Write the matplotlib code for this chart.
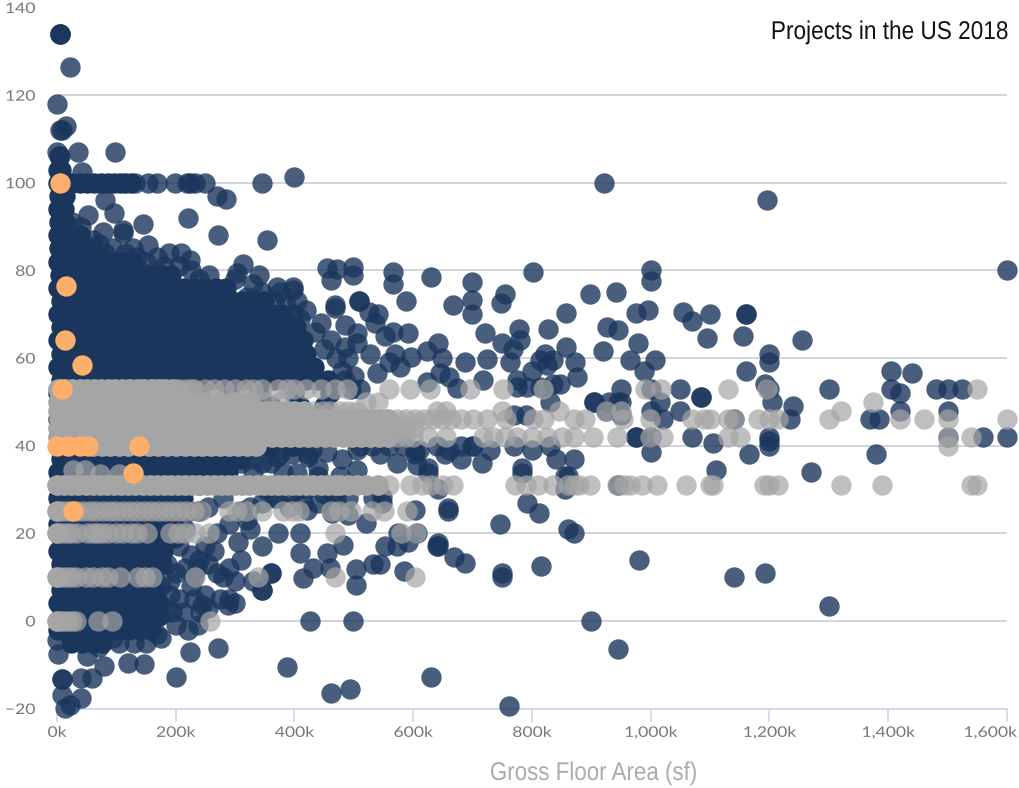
import matplotlib
matplotlib.use("Agg")
import matplotlib.pyplot as plt
import matplotlib.patheffects as pe
from matplotlib.transforms import Affine2D, ScaledTranslation

x_ticks = [0, 200, 400, 600, 800, 1000, 1200, 1400, 1600]
x_tick_labels = ["0k", "200k", "400k", "600k", "800k", "1,000k", "1,200k", "1,400k", "1,600k"]
y_ticks = [-20, 0, 20, 40, 60, 80, 100, 120, 140]
title_text = "Projects in the US 2018"
x_title = "Gross Floor Area (sf)"

# dense mass of the dark series: one list of gross floor areas (k sf) per EUI level
core_levels = [106, 103, 100, 97, 94, 91, 88, 85, 82, 79, 76, 73, 70, 67, 64, 61, 58, 55, 52, 49, 46, 43, 40, 37, 34, 31, 28, 25, 22, 19, 16, 13, 10, 7, 4, 1, -2, -5]
core_106 = [3]
core_103 = [2, 6]
core_100 = [2, 14, 26, 38, 50, 62, 74, 86, 96, 106, 114, 124]
core_97 = [3, 14]
core_94 = [1, 12]
core_91 = [4, 14]
core_88 = [1, 12, 24, 38]
core_85 = [4, 18, 32, 46, 60]
core_82 = [1, 14, 28, 42, 56, 70, 84, 98, 112, 128]
core_79 = [5, 20, 35, 50, 65, 80, 95, 110, 125, 140, 158, 176, 192]
core_76 = [1, 16, 32, 48, 64, 80, 96, 112, 128, 144, 160, 178, 196, 214, 232, 250, 268, 285]
core_73 = [6, 24, 42, 60, 78, 96, 114, 132, 150, 168, 186, 204, 222, 240, 258, 276, 294, 312, 330, 348]
core_70 = [1, 19, 37, 55, 73, 91, 109, 127, 145, 163, 181, 199, 217, 235, 253, 271, 289, 307, 325, 343, 361, 379]
core_67 = [6, 24, 42, 60, 78, 96, 114, 132, 150, 168, 186, 204, 222, 240, 258, 276, 294, 312, 330, 348, 366, 384, 402]
core_64 = [1, 19, 37, 55, 73, 91, 109, 127, 145, 163, 181, 199, 217, 235, 253, 271, 289, 307, 325, 343, 361, 379, 397, 415]
core_61 = [6, 24, 42, 60, 78, 96, 114, 132, 150, 168, 186, 204, 222, 240, 258, 276, 294, 312, 330, 348, 366, 384, 402, 420]
core_58 = [1, 19, 37, 55, 73, 91, 109, 127, 145, 163, 181, 199, 217, 235, 253, 271, 289, 307, 325, 343, 361, 379, 397, 415, 433]
core_55 = [6, 24, 42, 60, 78, 96, 114, 132, 150, 168, 186, 204, 222, 240, 258, 276, 294, 312, 330, 348, 366, 384, 402, 420, 438, 456]
core_52 = [1, 40, 90, 140, 190, 240, 290, 340, 400, 460]
core_49 = [6, 60, 120, 180, 240, 300, 360, 410, 450]
core_46 = [1, 60, 120, 180, 240, 300, 360, 415]
core_43 = [6, 60, 120, 180, 240, 300, 360, 410]
core_40 = [1, 60, 120, 180, 240, 300, 360, 395]
core_37 = [6, 24, 42, 60, 78, 96, 114, 132, 150, 168, 186, 204, 222, 240, 258, 276, 294, 310]
core_34 = [1, 19, 37, 55, 73, 91, 109, 127, 145, 163, 181, 199, 217, 235, 253, 271, 288]
core_31 = [6, 60, 120, 180, 240, 290]
core_28 = [1, 19, 37, 55, 73, 91, 109, 127, 145, 163, 181, 199, 212]
core_25 = [6, 24, 42, 60, 78, 96, 114, 132, 150, 168, 186, 204, 222, 240]
core_22 = [1, 19, 37, 55, 73, 91, 109, 127, 145, 163, 180, 196]
core_19 = [6, 24, 42, 60, 78, 96, 114, 132, 150, 168, 186, 198]
core_16 = [1, 19, 37, 55, 73, 91, 109, 127, 145, 163, 178]
core_13 = [6, 24, 42, 60, 78, 96, 114, 132, 150, 168, 176]
core_10 = [1, 19, 37, 55, 73, 91, 109, 127, 145, 162]
core_7 = [6, 24, 42, 60, 78, 92, 120, 135, 150, 165]
core_4 = [1, 19, 37, 55, 73, 90, 118, 132, 146, 160, 172]
core_1 = [6, 24, 42, 60, 78, 96, 112, 128, 144, 160, 172]
core_m2 = [1, 19, 37, 55, 73, 90, 122, 140, 158]
core_m5 = [24, 42, 60, 76]
core_rows = [core_106, core_103, core_100, core_97, core_94, core_91, core_88, core_85, core_82, core_79, core_76, core_73, core_70, core_67, core_64, core_61, core_58, core_55, core_52, core_49, core_46, core_43, core_40, core_37, core_34, core_31, core_28, core_25, core_22, core_19, core_16, core_13, core_10, core_7, core_4, core_1, core_m2, core_m5]

# individually readable dark points, by region of the chart
top_x = [5, 5, 5, 22, 0, 5, 9, 15, 0, 5, 35, 98, 42, 80, 96, 52, 145, 220, 272, 353, 269, 285, 346, 399,
         131, 153, 168, 199, 219, 224, 232, 249, 78, 111, 111, 128, 153, 168, 189, 209, 224, 313, 303, 340, 330, 143, 256, 370, 397, 397]
top_y = [134, 134, 134, 126.5, 118, 112, 112, 113, 107, 106, 107, 107, 102.5, 96, 93, 92.7, 90.6, 92, 88, 87, 97, 96.3, 100, 101.4,
         100, 100, 100, 100, 100, 100, 100, 100, 88.8, 89.3, 88.5, 85, 85.8, 83, 84, 84, 82.4, 81.5, 79.5, 79, 77, 79.7, 79, 76.3, 76.3, 75.5]

bottom_x = [426, 499, 387, 462, 494, 271, 224, 201, 120, 147, 79, 59, 40, 40, 22, 13, 8, 8, 8, 2, 0, 168, 237, 241, 193, 212, 288, 244, 630, 50, 70, 95, 190, 225, 250, 270, 300, 345, 360]
bottom_y = [0, 0, -10.5, -16.4, -15.5, -6.2, -7.1, -12.9, -9.7, -9.9, -10.2, -13, -13, -17.6, -19.2, -19.9, -16.9, -13.3, -13.3, -7.5, -4.3, -3, -1, 2, 2, 2, 3.6, 3.7, -12.8, -8, -6, -4, 6, 8, 6, 11, 9, 7, 11]

right_x = [1600, 1600, 1560, 1500, 1500, 1500, 1480, 1525, 1440, 1405, 1405, 1420, 1420, 1370, 1385, 1380, 1300, 1270, 1255, 1240, 1235, 1195, 1200, 1200, 1193, 1200, 1205, 1200, 1200, 1200, 1160, 1160, 1155, 1160, 1165, 1140, 1140, 1193, 1300,
           1100, 1095, 1070, 1055, 1050, 1050, 1085, 1085, 1070, 1105, 1110, 1020, 1015, 1000, 1000, 975, 950, 945, 980, 900, 945, 922, 762, 930, 905]
right_y = [80, 42, 42, 48, 42, 53, 53, 53, 56.5, 57, 53, 52, 48, 46, 46, 38, 53, 34, 64, 49, 46, 96, 61, 59, 54, 53, 50, 42, 41, 40, 70, 70, 65, 57, 38, 46, 10, 11, 3.5,
           70, 64.5, 68.5, 70.5, 53, 48, 51, 51, 42, 40.5, 34.5, 46, 50, 42, 38.5, 42, 47, 31, 14, 0, -6.5, 100, -19.5, 50, 50]

mid_x = [498, 498, 566, 566, 630, 699, 699, 699, 801, 587, 508, 667, 754, 747, 897, 941, 1000, 1000, 976, 995, 858, 926, 945, 919, 978, 965, 1008, 988, 721, 778, 780, 827, 858, 687, 725, 641, 623, 648, 591, 566, 540, 525, 535, 552, 597, 570, 485, 505, 485, 505, 527, 560, 539, 577, 749, 768, 763, 775, 800, 822, 813, 835, 825, 872, 875, 835, 847, 813, 791, 775, 645, 661, 673, 717, 623, 455, 471, 461, 468, 468, 508, 1000, 950]
mid_y = [80.8, 79, 79.7, 77, 78.5, 77.4, 73.3, 70, 79.7, 73, 73, 72, 74.7, 72.6, 74.7, 75, 80, 77.6, 70.3, 71, 70.3, 67, 66.4, 61.6, 63.5, 59.6, 59.6, 57, 65.8, 66.7, 64, 66.7, 62.6, 59, 59.8, 63.5, 61.6, 60, 65.8, 66, 70, 70.6, 68, 65, 60.3, 61, 67.6, 65.8, 62.6, 63.5, 61, 59, 56.6, 58, 63.5, 62, 59, 55, 57, 61, 59.6, 59.6, 58.4, 59, 55.7, 54, 54, 53.4, 53.4, 53.4, 56.6, 55.7, 53.2, 55, 54.6, 80.6, 80.4, 77.9, 72, 71.5, 73, 53, 53]

low_x = [653, 699, 603, 658, 658, 746, 791, 811, 783, 783, 749, 749, 816, 688, 668, 641, 641, 584, 503, 503, 520, 481, 454, 409, 415, 431, 460, 360, 345, 409, 372, 544, 532, 572, 552, 591, 606, 574, 640, 421, 463, 490, 547, 547, 533, 505, 544, 572, 606, 625, 625, 641, 603, 603, 505, 423, 423, 380, 440, 476, 370, 404, 870, 855, 840, 860, 855, 870, 790, 770, 830, 905, 860, 945, 925, 1000, 975, 950,
         350, 375, 400, 430, 455, 480, 510, 530, 420, 450, 470, 310, 330, 350, 370, 395, 415, 440, 465, 490, 560, 585, 610, 640, 660, 680, 700, 730, 770, 800, 830, 680, 715,
         270, 290, 250, 235, 305, 325, 345, 290, 310, 330, 255, 280, 320]
low_y = [38, 40, 25.3, 25, 25.8, 22, 27, 24.6, 33.8, 34.8, 11, 10, 12.6, 13.2, 14.6, 17, 17.8, 11.4, 11.8, 8.2, 22.3, 17.3, 15.5, 15.5, 9.8, 12, 12, 11, 7, 20, 20, 13, 13, 17, 17, 18, 20, 20, 17, 25.3, 24.6, 24.2, 27, 28.3, 28, 39, 38, 36, 35.6, 33.8, 34.8, 30, 38, 38.8, 34.5, 37.5, 38.2, 34, 35, 33, 37.5, 33.8, 37, 33, 37, 33, 30, 20, 47, 47, 50, 50, 21, 50, 48, 48, 42, 50,
         40, 38, 40, 39, 38.5, 37, 40, 40, 30, 29, 28, 36, 34, 30, 28, 29, 27, 27, 29, 28, 40, 40, 39, 40, 39, 40, 40, 39, 40, 39, 40, 37, 36,
         20, 22, 17, 12, 18, 21, 17, 12, 14, 9, 26, 28, 23]

# points along the rim of the dense mass
rim_x = [300, 320, 345, 365, 385, 410, 420, 435, 445, 450, 462, 470, 480, 490, 485, 500, 510, 495, 405, 375, 398, 225, 240, 205, 180, 150, 135, 115, 95, 80, 70, 60, 40, 25,
         200, 215, 230, 190, 185, 205, 175, 180, 220, 200, 175, 150, 130, 105, 105, 100, 110, 205, 215, 225, 240, 255, 265, 280, 290, 300, 275, 255, 230,
         310, 325, 345, 365, 390, 405, 300, 315, 330, 345, 360, 395, 440]
rim_y = [78, 74, 75, 73, 72, 69, 71, 66, 68, 62, 64, 60, 57, 60, 55, 56, 53, 53, 73, 75, 70, 80, 78, 81, 81, 82, 83, 84, 85, 84, 86, 87, 90, 91,
         11, 12, 10, 9, 13, 5, 8, 2, -2, -1, -4, -5, -5, -5, -2, 2, 6, 17, 21, 15, 14, 13, 16, 10, 5, 4, 5, 3, 5,
         25, 26, 27, 28, 26, 30, 37, 38, 37, 36, 36, 38, 33]

# grey series: lists of gross floor areas per EUI level
grey_x_53 = [2, 14, 26, 38, 50, 62, 74, 86, 98, 110, 122, 134, 146, 158, 170, 182, 194, 206, 218, 230, 250, 265, 282, 300, 318, 330, 345, 372, 388, 400, 420, 445, 468, 488, 559, 594, 628, 695, 751, 818, 990, 1018, 1130, 1195, 1550]
grey_x_50 = [2, 20, 40, 60, 80, 100, 120, 140, 160, 180, 200, 225, 250, 275, 300, 325, 350, 375, 520, 540, 1375]
grey_x_48 = [1, 16, 32, 48, 64, 80, 96, 112, 128, 144, 160, 176, 192, 208, 224, 240, 256, 272, 288, 304, 320, 336, 352, 368, 384, 400, 416, 432, 448, 460, 476, 490, 505, 640, 655, 750, 845, 925, 950, 1320]
grey_x_46 = [3, 18, 33, 48, 63, 78, 93, 108, 123, 138, 153, 168, 183, 198, 213, 228, 243, 258, 273, 288, 303, 318, 333, 348, 363, 378, 393, 408, 423, 438, 453, 468, 483, 498, 513, 528, 543, 558, 573, 588, 603, 618, 633, 648, 663, 680, 700, 724, 757, 801, 820, 870, 890, 953, 998, 1070, 1090, 1100, 1130, 1140, 1180, 1200, 1215, 1300, 1420, 1460, 1500, 1600]
grey_x_44 = [1, 16, 31, 46, 61, 76, 91, 106, 121, 136, 151, 166, 181, 196, 211, 226, 241, 256, 271, 286, 301, 316, 331, 346, 361, 376, 391, 406, 421, 436, 451, 466, 481, 496, 511, 526, 541, 556, 571, 586, 601]
grey_x_42 = [2, 17, 32, 47, 62, 77, 92, 107, 122, 137, 152, 167, 182, 197, 212, 227, 242, 257, 272, 287, 302, 317, 332, 347, 362, 377, 392, 407, 422, 437, 452, 467, 482, 497, 512, 527, 542, 557, 572, 587, 600, 625, 655, 717, 735, 755, 775, 800, 825, 850, 870, 902, 943, 998, 1020, 1130, 1150, 1500, 1540]
grey_x_40 = [60, 75, 90, 105, 120, 155, 170, 185, 200, 215, 230, 245, 260, 275, 290, 305, 320, 335, 1500]
grey_x_31 = [0, 12, 24, 36, 48, 60, 72, 84, 96, 108, 120, 132, 144, 156, 168, 180, 192, 204, 216, 228, 240, 252, 264, 276, 288, 300, 312, 324, 336, 348, 360, 372, 384, 396, 408, 420, 432, 444, 456, 468, 476, 490, 505, 520, 540, 560, 594, 615, 630, 650, 667, 771, 790, 810, 835, 860, 870, 880, 897, 943, 955, 965, 985, 1010, 1060, 1100, 1105, 1190, 1200, 1215, 1320, 1390, 1540, 1550]
grey_x_25 = [0, 8, 16, 24, 34, 44, 55, 66, 78, 90, 100, 112, 123, 134, 146, 158, 170, 182, 194, 206, 218, 230, 242, 290, 303, 318, 345, 380, 395, 408, 462, 475, 495, 530, 550, 590]
grey_x_20 = [0, 8, 16, 24, 34, 50, 60, 68, 76, 86, 100, 112, 125, 135, 151, 190, 203, 215, 232, 256, 468, 580, 605]
grey_x_10 = [0, 8, 16, 24, 32, 48, 60, 75, 86, 106, 136, 148, 160, 232, 338, 468, 603]
grey_x_0 = [0, 6, 12, 18, 25, 32, 69, 92, 258]
grey_levels = [53, 50, 48, 46, 44, 42, 40, 31, 25, 20, 10, 0]
grey_rows = [grey_x_53, grey_x_50, grey_x_48, grey_x_46, grey_x_44, grey_x_42, grey_x_40, grey_x_31, grey_x_25, grey_x_20, grey_x_10, grey_x_0]
grey_solid_until = [200, 340, 430, 560, 480, 560, 340, 545, 0, 0, 0, 0]
grey_extra_x = [27, 47, 72, 105, 125, 140, 160, 175, 200, 225]
grey_extra_y = [34.5, 34.5, 33.5, 33.5, 53, 53, 53, 53, 53, 53]

orange_x = [5, 15, 13.5, 42, 8, 0, 19, 39, 52, 138, 128, 27]
orange_y = [100, 76.5, 64, 58.5, 53, 40, 40, 40, 40, 40, 33.8, 25]

NAVY = "#1b365d"
GREY = "#a5a5a5"
ORANGE = "#fdae6b"
SIZE = 215


class StretchX(pe.AbstractPathEffect):
    """Widen or narrow a text run about its centre or right edge; the text stays text."""

    def __init__(self, factor, anchor="center"):
        super().__init__()
        self.factor = factor
        self.anchor = anchor

    def draw_path(self, renderer, gc, tpath, affine, rgbFace=None):
        xs = tpath.vertices[:, 0]
        pivot = xs.max() if self.anchor == "right" else (xs.min() + xs.max()) / 2
        stretch = Affine2D().translate(-pivot, 0).scale(self.factor, 1).translate(pivot, 0)
        renderer.draw_path(gc, tpath, stretch + affine, rgbFace)


fig = plt.figure(figsize=(10.19, 7.88), dpi=100)
ax = fig.add_axes([57 / 1019, 1 - 708.5 / 788, 950 / 1019, 701 / 788])
ax.set_xlim(0, 1600)
ax.set_ylim(-20, 140)

ax.set_axisbelow(True)
ax.grid(axis="y", color="#c9ced6", linewidth=1.2)
for s in ["top", "right", "left"]:
    ax.spines[s].set_visible(False)
ax.spines["bottom"].set_color("#ccd6eb")
ax.spines["bottom"].set_linewidth(1.2)

ax.set_xticks(x_ticks)
ax.set_xticklabels(x_tick_labels)
ax.set_yticks(y_ticks)
ax.set_yticklabels([str(v).replace("-", "\u2212") for v in y_ticks])
ax.tick_params(axis="x", length=9.5, width=1.2, color="#ccd6eb", pad=3, labelsize=10.5, labelcolor="#777777")
ax.tick_params(axis="y", length=0, pad=15.5, labelsize=10.5, labelcolor="#777777")
for lab in ax.get_xticklabels():
    lab.set_family("Lato")
    lab.set_path_effects([StretchX(1.2)])
for lab in ax.get_yticklabels():
    lab.set_family("Lato")
    lab.set_path_effects([StretchX(1.2, "right")])
last = ax.get_xticklabels()[-1]
last.set_ha("right")
last.set_path_effects([StretchX(1.2, "right")])
last.set_transform(last.get_transform() + ScaledTranslation(10 / 100, 0, fig.dpi_scale_trans))

for level, row in zip(core_levels, core_rows):
    ax.scatter(row, [level] * len(row), s=SIZE, color=NAVY, linewidths=0, clip_on=False, zorder=3)
for px, py in [(top_x, top_y), (bottom_x, bottom_y), (right_x, right_y), (mid_x, mid_y), (low_x, low_y), (rim_x, rim_y)]:
    ax.scatter(px, py, s=SIZE, color=NAVY, alpha=0.8, linewidths=0, clip_on=False, zorder=3)

for level, row, solid in zip(grey_levels, grey_rows, grey_solid_until):
    ax.scatter(row, [level] * len(row), s=SIZE, color=GREY, alpha=0.7, linewidths=0, clip_on=False, zorder=4)
    dense = [v for v in row if v <= solid]
    if dense:
        ax.scatter(dense, [level] * len(dense), s=SIZE, color=GREY, linewidths=0, clip_on=False, zorder=4)
ax.scatter(grey_extra_x, grey_extra_y, s=SIZE, color=GREY, alpha=0.7, linewidths=0, clip_on=False, zorder=4)
ax.scatter(orange_x, orange_y, s=SIZE, color=ORANGE, linewidths=0, clip_on=False, zorder=5)

sans = ["Liberation Sans"]
fig.text(1009 / 1019, 1 - 32 / 788, title_text, ha="right", va="center", family=sans, fontsize=18.5, color="#111111",
         path_effects=[StretchX(0.88, "right")])
fig.text(594 / 1019, 1 - 773 / 788, x_title, ha="center", va="center", family=sans, fontsize=18.5, color="#ababab",
         path_effects=[StretchX(0.87)])

fig.savefig("out.png", dpi=100)
